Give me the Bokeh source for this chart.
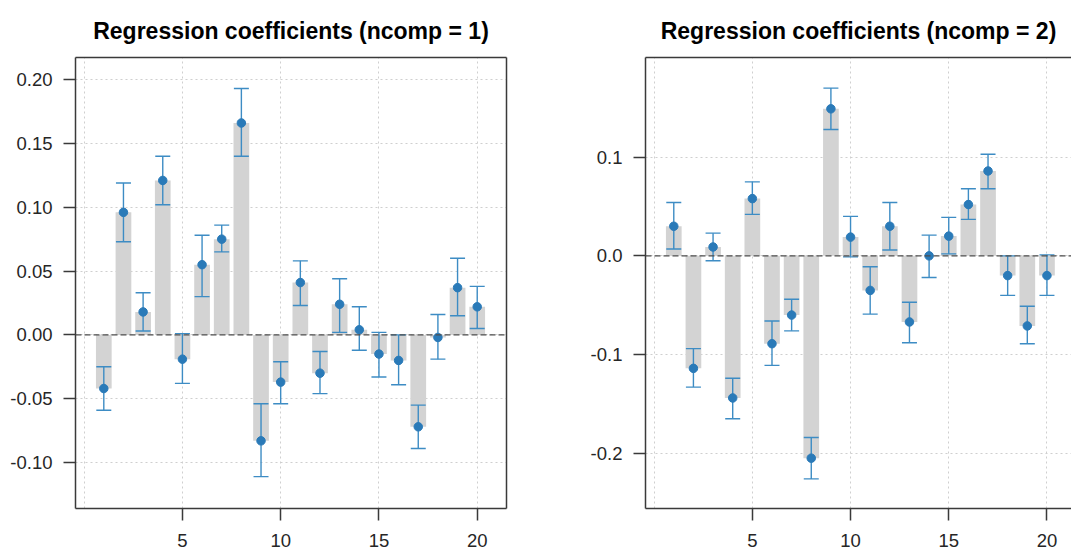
from bokeh.plotting import figure
from bokeh.layouts import row
from bokeh.models import FixedTicker, LinearAxis, Range1d, Span, ColumnDataSource
from bokeh.embed import file_html
from bokeh.resources import INLINE

# ---- data ----
variables = list(range(1, 21))

coef1 = [-0.042, 0.096, 0.018, 0.121, -0.019, 0.055, 0.075, 0.166, -0.083, -0.037,
         0.041, -0.030, 0.024, 0.004, -0.015, -0.020, -0.072, -0.002, 0.037, 0.022]
upper1 = [-0.025, 0.119, 0.033, 0.140, 0.001, 0.078, 0.086, 0.193, -0.054, -0.021,
          0.058, -0.013, 0.044, 0.022, 0.002, 0.000, -0.055, 0.016, 0.060, 0.038]
lower1 = [-0.059, 0.073, 0.003, 0.102, -0.038, 0.030, 0.065, 0.140, -0.111, -0.054,
          0.023, -0.046, 0.002, -0.012, -0.033, -0.039, -0.089, -0.019, 0.015, 0.005]

coef2 = [0.030, -0.114, 0.009, -0.144, 0.058, -0.089, -0.060, -0.205, 0.149, 0.019,
         -0.035, 0.030, -0.067, 0.000, 0.020, 0.052, 0.086, -0.020, -0.071, -0.020]
upper2 = [0.054, -0.094, 0.023, -0.124, 0.075, -0.066, -0.044, -0.184, 0.170, 0.040,
          -0.011, 0.054, -0.047, 0.021, 0.039, 0.068, 0.103, 0.000, -0.051, 0.001]
lower2 = [0.007, -0.133, -0.005, -0.165, 0.042, -0.111, -0.076, -0.226, 0.128, -0.001,
          -0.059, 0.006, -0.088, -0.022, 0.002, 0.037, 0.068, -0.040, -0.089, -0.040]

title1 = "Regression coefficients (ncomp = 1)"
title2 = "Regression coefficients (ncomp = 2)"

xticks = [5, 10, 15, 20]
xgrid = [0, 5, 10, 15, 20]
yticks1 = [-0.10, -0.05, 0.00, 0.05, 0.10, 0.15, 0.20]
ylabels1 = ["-0.10", "-0.05", "0.00", "0.05", "0.10", "0.15", "0.20"]
yticks2 = [-0.2, -0.1, 0.0, 0.1]
ylabels2 = ["-0.2", "-0.1", "0.0", "0.1"]

FONT = "Liberation Sans"
AXC = "#3a3a3a"
BAR = "#d3d3d3"
PT = "#2a7ab8"
ERR = "#3d8cc4"


def style_axis(ax):
    ax.axis_line_color = AXC
    ax.axis_line_width = 1.5
    ax.major_tick_line_color = AXC
    ax.major_tick_line_width = 1.5
    ax.major_tick_in = 0
    ax.major_tick_out = 12
    ax.minor_tick_in = 0
    ax.minor_tick_out = 0
    ax.major_label_text_font = FONT
    ax.major_label_text_font_size = "18.5px"
    ax.major_label_text_color = "#262626"


def border_axis(p, side):
    ax = LinearAxis(ticker=FixedTicker(ticks=[]))
    ax.axis_line_color = AXC
    ax.axis_line_width = 1.5
    ax.major_tick_out = 0
    ax.major_tick_in = 0
    ax.minor_tick_out = 0
    ax.minor_tick_in = 0
    ax.major_label_text_font_size = "0px"
    ax.major_label_standoff = 0
    p.add_layout(ax, side)


def panel(coef, upper, lower, title, xr, yr, yticks, ylabels, width, mbl, mbr, right_border):
    p = figure(width=width, height=550, x_range=Range1d(*xr), y_range=Range1d(*yr),
               output_backend="svg", toolbar_location=None,
               min_border_left=mbl, min_border_right=mbr, min_border_top=57,
               min_border_bottom=42)
    p.outline_line_color = None
    p.background_fill_color = "white"
    p.border_fill_color = "white"

    p.title.text = title
    p.title.align = "center"
    p.title.vertical_align = "top"
    p.title.text_font = FONT
    p.title.text_font_size = "23px"
    p.title.text_font_style = "bold"
    p.title.text_color = "black"
    p.title.standoff = 23

    p.xaxis.ticker = FixedTicker(ticks=xticks)
    p.yaxis.ticker = FixedTicker(ticks=yticks)
    p.yaxis.major_label_overrides = {t: l for t, l in zip(yticks, ylabels)}
    p.xaxis.major_label_standoff = 13
    p.yaxis.major_label_standoff = 11
    style_axis(p.xaxis[0])
    style_axis(p.yaxis[0])

    p.xgrid.ticker = FixedTicker(ticks=xgrid)
    p.grid.grid_line_color = "#cfcfcf"
    p.grid.grid_line_dash = "2 3"
    p.grid.grid_line_width = 1

    border_axis(p, "above")
    if right_border:
        border_axis(p, "right")

    src = ColumnDataSource(dict(x=variables, y=coef, up=upper, lo=lower))
    p.vbar(x="x", top="y", bottom=0, width=0.8, source=src, fill_color=BAR, line_color=None)
    p.add_layout(Span(location=0, dimension="width", line_color="#4d4d4d",
                      line_dash="6 3", line_width=1.3))
    p.segment(x0="x", y0="lo", x1="x", y1="up", source=src, line_color=ERR, line_width=1.4)
    p.scatter(x="x", y="up", source=src, marker="dash", size=15, line_color=ERR, line_width=1.4)
    p.scatter(x="x", y="lo", source=src, marker="dash", size=15, line_color=ERR, line_width=1.4)
    p.scatter(x="x", y="y", source=src, marker="circle", size=8.5, fill_color=PT,
              line_color=PT, line_width=1)
    return p


p1 = panel(coef1, upper1, lower1, title1, (-0.44, 21.49), (-0.136, 0.2173),
           yticks1, ylabels1, 540, 75, 34, True)
p2 = panel(coef2, upper2, lower2, title2, (-0.44, 21.25), (-0.256, 0.201),
           yticks2, ylabels2, 531, 105, 0, False)

layout = row(p1, p2)
open("out.html", "w").write(file_html(layout, INLINE))
